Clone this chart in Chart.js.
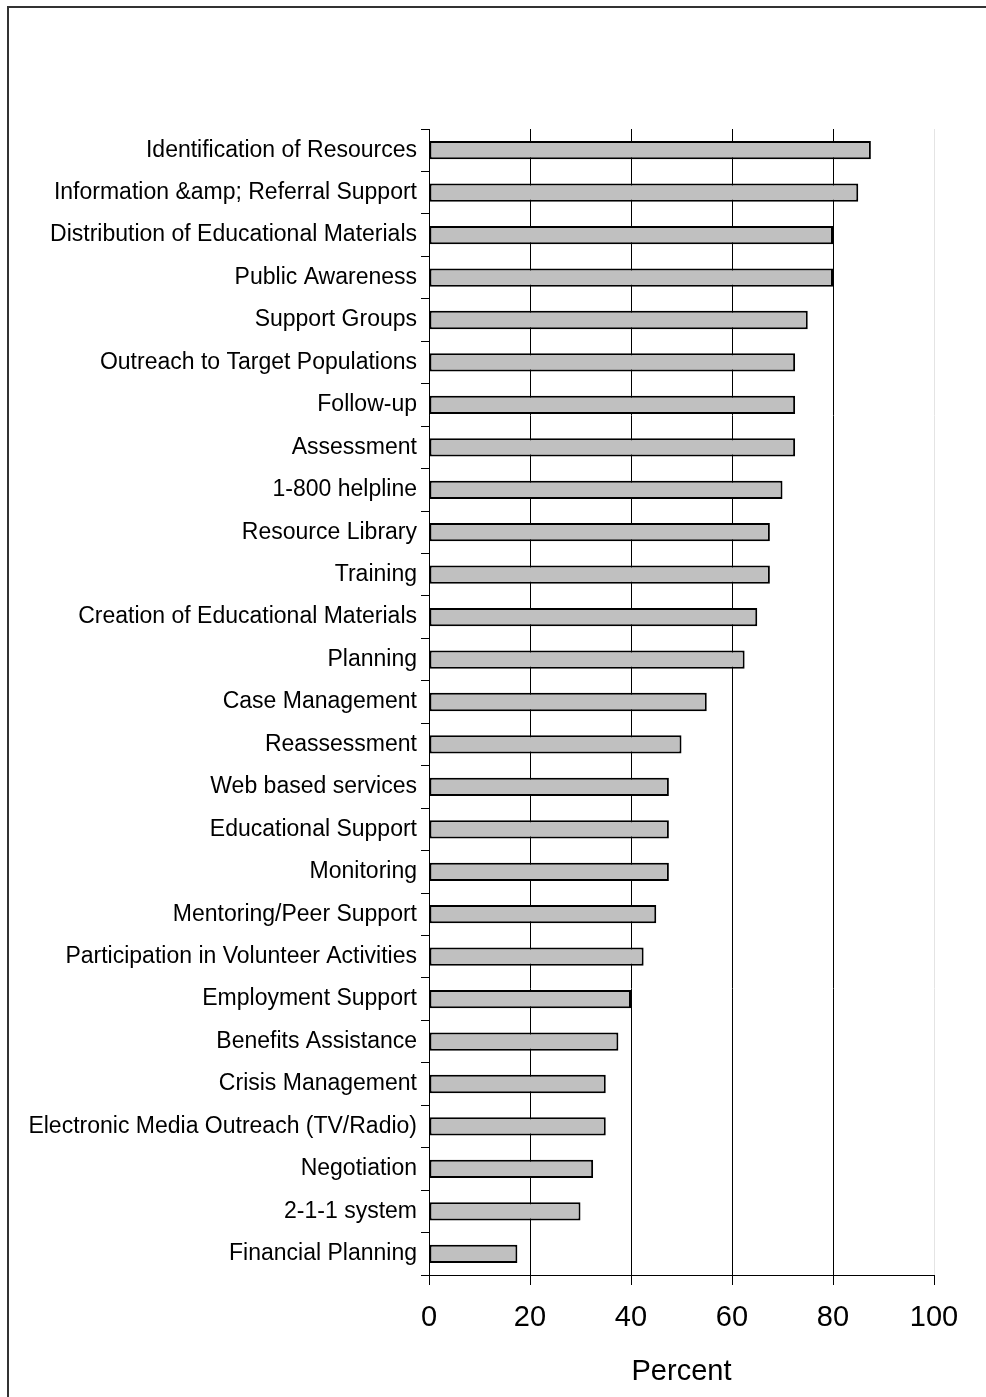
<!DOCTYPE html>
<html>
<head>
<meta charset="utf-8">
<script src="https://cdn.jsdelivr.net/npm/chart.js@4/dist/chart.umd.min.js"></script>
<style>
  html, body { margin: 0; padding: 0; background: #fff; }
  canvas { display: block; }
</style>
</head>
<body>
<canvas id="servicesChart" width="986" height="1397"></canvas>
<script>
const categories = [
  'Identification of Resources',
  'Information &amp; Referral Support',
  'Distribution of Educational Materials',
  'Public Awareness',
  'Support Groups',
  'Outreach to Target Populations',
  'Follow-up',
  'Assessment',
  '1-800 helpline',
  'Resource Library',
  'Training',
  'Creation of Educational Materials',
  'Planning',
  'Case Management',
  'Reassessment',
  'Web based services',
  'Educational Support',
  'Monitoring',
  'Mentoring/Peer Support',
  'Participation in Volunteer Activities',
  'Employment Support',
  'Benefits Assistance',
  'Crisis Management',
  'Electronic Media Outreach (TV/Radio)',
  'Negotiation',
  '2-1-1 system',
  'Financial Planning'
];
const percentValues = [
  87.5, 85, 80, 80, 75, 72.5, 72.5, 72.5, 70, 67.5, 67.5, 65, 62.5, 55,
  50, 47.5, 47.5, 47.5, 45, 42.5, 40, 37.5, 35, 35, 32.5, 30, 17.5
];
const xTicks = [0, 20, 40, 60, 80, 100];
const xTitle = 'Percent';

const FONT = 'Arial, "Liberation Sans", sans-serif';

// frame line on the top and left edges
const framePlugin = {
  id: 'frame',
  beforeDraw(chart) {
    const c = chart.ctx;
    c.save();
    c.strokeStyle = '#333';
    c.lineWidth = 2;
    c.beginPath();
    c.moveTo(8, chart.height);
    c.lineTo(8, 7);
    c.lineTo(chart.width, 7);
    c.stroke();
    c.restore();
  }
};

const ctx = document.getElementById('servicesChart').getContext('2d');
const servicesChart = new Chart(ctx, {
  type: 'bar',
  data: {
    labels: categories,
    datasets: [{
      label: xTitle,
      data: percentValues,
      backgroundColor: '#c0c0c0',
      borderColor: '#000',
      borderWidth: 2,
      borderSkipped: false,
      barPercentage: 0.43,
      categoryPercentage: 1
    }]
  },
  options: {
    indexAxis: 'y',
    responsive: false,
    animation: false,
    layout: { padding: { top: 129, right: 52, left: 0, bottom: 0 } },
    plugins: { legend: { display: false }, tooltip: { enabled: false } },
    scales: {
      x: {
        min: 0,
        max: 100,
        afterBuildTicks: (scale) => { scale.ticks = xTicks.map(v => ({ value: v })); },
        afterFit: (scale) => { scale.height = 122; },
        border: { color: '#000', width: 1 },
        grid: {
          color: (c) => (c.tick && c.tick.value === 100 ? '#e4e4e4' : '#000'),
          tickColor: '#000',
          tickLength: 10,
          lineWidth: 1
        },
        ticks: {
          color: '#000',
          padding: 16,
          font: { family: FONT, size: 29 }
        },
        title: {
          display: true,
          text: xTitle,
          color: '#000',
          padding: { top: 0, bottom: 8 },
          font: { family: FONT, size: 29 }
        }
      },
      y: {
        afterFit: (scale) => { scale.width = 429; },
        border: { color: '#000', width: 1 },
        grid: {
          offset: true,
          drawOnChartArea: false,
          tickColor: '#000',
          tickLength: 8
        },
        ticks: {
          color: '#000',
          padding: 4,
          autoSkip: false,
          font: { family: FONT, size: 23 }
        }
      }
    }
  },
  plugins: [framePlugin]
});
</script>
</body>
</html>
